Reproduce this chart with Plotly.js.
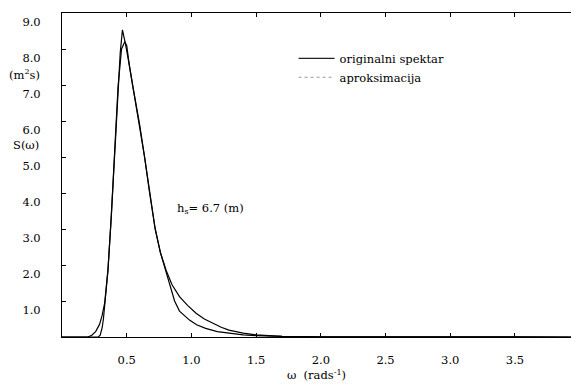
<!DOCTYPE html>
<html>
<head>
<meta charset="utf-8">
<script src="https://cdn.plot.ly/plotly-3.0.1.min.js"></script>
<style>
html,body{margin:0;padding:0;background:#fff}
#chart{width:571px;height:390px}
</style>
</head>
<body>
<div id="chart"></div>
<script>
// Original spectrum (sharper peak, lower tail)
const omegaOrig = [0.00, 0.28, 0.295, 0.31, 0.32, 0.33, 0.355, 0.38, 0.408, 0.433, 0.45, 0.467, 0.49, 0.52, 0.548, 0.60, 0.638, 0.677, 0.72, 0.76, 0.805, 0.84, 0.87, 0.908, 0.95, 0.985, 1.04, 1.11, 1.20, 1.29, 1.40, 1.50, 1.70, 2.00, 2.50, 3.933];
const sOrig     = [0.00, 0.00, 0.05, 0.25, 0.50, 0.90, 1.85, 3.30, 5.10, 6.95, 7.90, 8.53, 8.15, 7.55, 6.95, 5.90, 5.00, 4.00, 3.00, 2.35, 1.80, 1.35, 1.00, 0.72, 0.57, 0.47, 0.34, 0.24, 0.15, 0.10, 0.06, 0.04, 0.015, 0.004, 0.001, 0.00];
// Approximation (broader peak, upper tail)
const omegaAprx = [0.00, 0.20, 0.23, 0.26, 0.29, 0.31, 0.33, 0.355, 0.38, 0.408, 0.433, 0.46, 0.485, 0.50, 0.52, 0.548, 0.60, 0.638, 0.677, 0.72, 0.76, 0.805, 0.85, 0.908, 0.97, 1.036, 1.10, 1.164, 1.23, 1.29, 1.40, 1.50, 1.70, 2.00, 2.50, 3.933];
const sAprx     = [0.00, 0.00, 0.05, 0.15, 0.35, 0.60, 0.95, 1.85, 3.30, 5.10, 6.95, 8.00, 8.20, 8.10, 7.55, 6.95, 5.90, 5.00, 4.00, 3.00, 2.35, 1.85, 1.45, 1.12, 0.88, 0.66, 0.50, 0.38, 0.27, 0.19, 0.11, 0.06, 0.02, 0.006, 0.001, 0.00];

const xTicks = [0.5, 1.0, 1.5, 2.0, 2.5, 3.0, 3.5];
const yTicks = [1, 2, 3, 4, 5, 6, 7, 8, 9];
const seriesNames = ['originalni spektar', 'aproksimacija'];

const FONT = 'DejaVu Serif';
const FS = 11.5;

const traces = [
  {x: omegaOrig, y: sOrig, mode: 'lines', line: {color: '#000', width: 1.2}, showlegend: false, hoverinfo: 'skip'},
  {x: omegaAprx, y: sAprx, mode: 'lines', line: {color: '#000', width: 1.2}, showlegend: false, hoverinfo: 'skip'},
  {x: [null], y: [null], mode: 'lines', name: seriesNames[0], line: {color: '#222', width: 1.2}},
  {x: [null], y: [null], mode: 'lines', name: seriesNames[1], line: {color: '#999', width: 1, dash: 'dot'}}
];

const layout = {
  width: 571, height: 390,
  margin: {l: 62, r: 0, t: 13, b: 53},
  paper_bgcolor: '#fff', plot_bgcolor: '#fff',
  font: {family: FONT, size: FS, color: '#000'},
  showlegend: true,
  legend: {x: 0.455, y: 0.905, xanchor: 'left', yanchor: 'top', itemwidth: 36, bgcolor: 'rgba(0,0,0,0)', font: {family: FONT, size: FS, color: '#000'}, tracegroupgap: 0},
  xaxis: {
    range: [0, 3.933], tickvals: xTicks, ticktext: xTicks.map(v => v.toFixed(1)),
    ticks: 'inside', ticklen: 4, tickcolor: '#000', showline: true, linecolor: '#000', linewidth: 1,
    mirror: 'ticks', showgrid: false, zeroline: false, ticklabelstandoff: 12,
    tickfont: {family: FONT, size: FS, color: '#000'},
    title: {text: 'ω  (rads<sup>-1</sup>)', standoff: 5, font: {family: FONT, size: FS, color: '#000'}}
  },
  yaxis: {
    range: [0, 9], tickvals: yTicks, ticktext: yTicks.map(v => v.toFixed(1)),
    ticks: 'inside', ticklen: 4, tickcolor: '#000', showline: true, linecolor: '#000', linewidth: 1,
    mirror: false, showgrid: false, zeroline: false, ticklabelstandoff: 18, ticklabelshift: 9,
    tickfont: {family: FONT, size: FS, color: '#000'}
  },
  annotations: [
    {text: '(m<sup>2</sup>s)', xref: 'paper', yref: 'paper', x: -0.073, y: 0.809, xanchor: 'center', yanchor: 'middle', showarrow: false, font: {family: FONT, size: FS, color: '#000'}},
    {text: 'S(ω)', xref: 'paper', yref: 'paper', x: -0.071, y: 0.593, xanchor: 'center', yanchor: 'middle', showarrow: false, font: {family: FONT, size: FS, color: '#000'}},
    {text: 'h<sub>s</sub>= 6.7 (m)', xref: 'paper', yref: 'paper', x: 0.222, y: 0.398, xanchor: 'left', yanchor: 'middle', showarrow: false, font: {family: FONT, size: FS, color: '#000'}}
  ]
};

Plotly.newPlot('chart', traces, layout, {displayModeBar: false});
</script>
</body>
</html>
